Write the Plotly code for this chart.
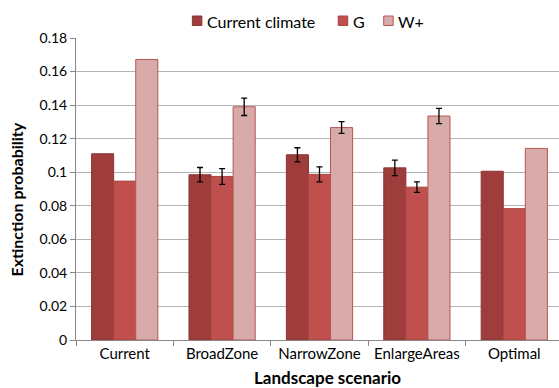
import plotly.graph_objects as go

scenarios = ["Current", "BroadZone", "NarrowZone", "EnlargeAreas", "Optimal"]
current_climate = [0.111, 0.0985, 0.1104, 0.1026, 0.1006]
current_err = [None, 0.0043, 0.0042, 0.0046, None]
g_vals = [0.0947, 0.0975, 0.0987, 0.0911, 0.0783]
g_err = [None, 0.0047, 0.0045, 0.0031, None]
wplus = [0.1672, 0.139, 0.1266, 0.1335, 0.1142]
wplus_err = [None, 0.0052, 0.0035, 0.0045, None]
y_ticks = [0, 0.02, 0.04, 0.06, 0.08, 0.1, 0.12, 0.14, 0.16, 0.18]

FONT = "Lato"
W, H = 559, 388
ML, MR, MT, MB = 75.5, 0, 38, 48
PW, PH = W - ML - MR, H - MT - MB

def px(x):
    return (x - ML) / PW

def py(y):
    return (H - MB - y) / PH

series = [
    ("Current climate", current_climate, current_err, "#9e3d3c", "#8a3533", "a"),
    ("G", g_vals, g_err, "#c0504d", "#a84441", "b"),
    ("W+", wplus, wplus_err, "#d9aaaa", "#b85553", "c"),
]

fig = go.Figure()
for name, vals, errs, fill, line, grp in series:
    fig.add_trace(go.Bar(
        name=name, x=scenarios, y=vals, offsetgroup=grp, showlegend=False,
        marker=dict(color=fill, line=dict(color=line, width=1)),
    ))
for name, vals, errs, fill, line, grp in series:
    # transparent overlay bars carrying the error bars (only where errors exist)
    fig.add_trace(go.Bar(
        name=name + " err", x=scenarios,
        y=[v if e is not None else None for v, e in zip(vals, errs)],
        offsetgroup=grp, showlegend=False, hoverinfo="skip",
        marker=dict(color="rgba(0,0,0,0)", line=dict(width=0)),
        error_y=dict(type="data", array=[e if e is not None else 0 for e in errs],
                     visible=True, color="black", thickness=1.3, width=3),
    ))

# custom legend (square swatch + label)
legend_pos = [(192, 205), (338, 351), (383.5, 396)]
for (name, vals, errs, fill, line, grp), (sx, tx) in zip(series, legend_pos):
    fig.add_shape(type="rect", xref="paper", yref="paper",
                  x0=px(sx), x1=px(sx + 9.5), y0=py(25.5), y1=py(16),
                  fillcolor=fill, line=dict(color=line, width=1))
    fig.add_annotation(xref="paper", yref="paper", x=px(tx), y=py(21),
                       xanchor="left", yanchor="middle", showarrow=False,
                       text=name, font=dict(family=FONT, size=16, color="black"))

# axis titles
fig.add_annotation(xref="paper", yref="paper", x=px(327), y=py(377.5),
                   xanchor="center", yanchor="middle", showarrow=False, borderpad=0,
                   text="<b>Landscape scenario</b>",
                   font=dict(family=FONT, size=17, color="black"))
fig.add_annotation(xref="paper", yref="paper", x=px(15), y=py(200),
                   xanchor="center", yanchor="middle", showarrow=False, textangle=-90,
                   text="<b>Extinction probability</b>",
                   font=dict(family=FONT, size=16, color="black"))

fig.update_layout(
    width=W, height=H,
    margin=dict(l=ML, r=MR, t=MT, b=MB, autoexpand=False),
    paper_bgcolor="white", plot_bgcolor="white",
    barmode="group", bargap=0.32, bargroupgap=0,
    font=dict(family=FONT, size=14, color="black"),
    showlegend=False,
    xaxis=dict(
        type="category", range=[-0.5, 4.459], automargin=False,
        tickson="boundaries", ticks="outside", ticklen=5, tickcolor="#888888",
        showline=True, linecolor="#888888", linewidth=1,
        showgrid=False,
        tickfont=dict(family=FONT, size=15),
    ),
    yaxis=dict(
        range=[0, 0.18], tickvals=y_ticks, automargin=False,
        ticktext=[("%g" % v) for v in y_ticks],
        ticks="outside", ticklen=5, tickcolor="#888888",
        showline=True, linecolor="#888888", linewidth=1,
        showgrid=True, gridcolor="#b3b3b3", gridwidth=1,
        zeroline=False,
        tickfont=dict(family=FONT, size=14),
    ),
)

fig.write_html("out.html", config={"displayModeBar": False},
               post_script="document.body.style.margin='0';document.body.style.overflow='hidden';")
